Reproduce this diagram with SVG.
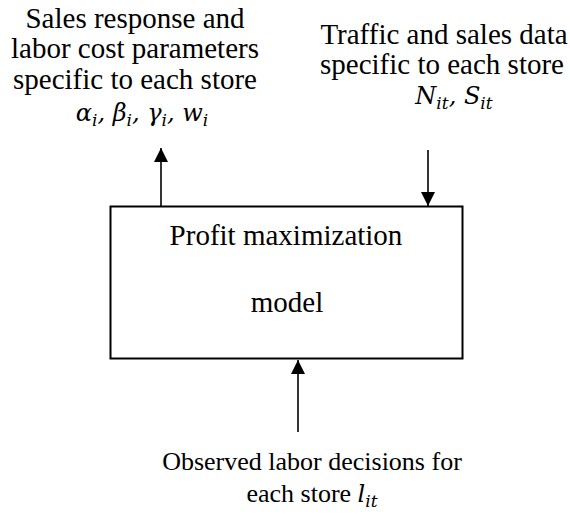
<svg xmlns="http://www.w3.org/2000/svg" width="570" height="520" viewBox="0 0 570 520">
<defs>
<style>
.t{font-family:"Liberation Serif","Times New Roman",serif;font-size:29px;fill:#000;text-anchor:middle}
.b{font-size:26px}
.m{font-family:"DejaVu Serif","Liberation Serif",serif;font-style:italic;font-size:24px;fill:#000;text-anchor:middle}
.s{font-size:17px}
.box{fill:#fff;stroke:#000;stroke-width:2}
.ln{stroke:#000;stroke-width:1.6;fill:none}
</style>
<marker id="ah" viewBox="0 0 10 10" refX="10" refY="5" markerWidth="14" markerHeight="14" markerUnits="userSpaceOnUse" orient="auto">
<path d="M0,0 L10,5 L0,10 z" fill="#000"/>
</marker>
</defs>
<rect width="570" height="520" fill="#fff"/>
<g id="params">
<text class="t" x="135" y="28">Sales response and</text>
<text class="t" x="135" y="58">labor cost parameters</text>
<text class="t" x="135" y="89">specific to each store</text>
<text class="m" x="142" y="121">α<tspan class="s" dy="5">i</tspan><tspan dy="-5">, β</tspan><tspan class="s" dy="5">i</tspan><tspan dy="-5">, γ</tspan><tspan class="s" dy="5">i</tspan><tspan dy="-5">, w</tspan><tspan class="s" dy="5">i</tspan></text>
</g>
<g id="data">
<text class="t" x="444" y="44">Traffic and sales data</text>
<text class="t" x="442" y="74">specific to each store</text>
<text class="m" x="454" y="104">N<tspan class="s" dy="5">it</tspan><tspan dy="-5">, S</tspan><tspan class="s" dy="5">it</tspan></text>
</g>
<g id="model">
<rect class="box" x="110.5" y="206.5" width="352" height="152"/>
<text class="t" x="286" y="245">Profit maximization</text>
<text class="t" x="287" y="312">model</text>
</g>
<g id="decisions">
<text class="t b" x="312" y="470">Observed labor decisions for</text>
<text class="t b" x="312" y="502">each store <tspan style="font-family:'DejaVu Serif','Liberation Serif',serif;font-style:italic;font-size:24px">l</tspan><tspan style="font-family:'DejaVu Serif','Liberation Serif',serif;font-style:italic;font-size:17px" dy="5">it</tspan></text>
</g>
<g id="connectors">
<line class="ln" x1="161" y1="206" x2="161" y2="148" marker-end="url(#ah)"/>
<line class="ln" x1="428" y1="150" x2="428" y2="206" marker-end="url(#ah)"/>
<line class="ln" x1="298" y1="432" x2="298" y2="360" marker-end="url(#ah)"/>
</g>
</svg>
